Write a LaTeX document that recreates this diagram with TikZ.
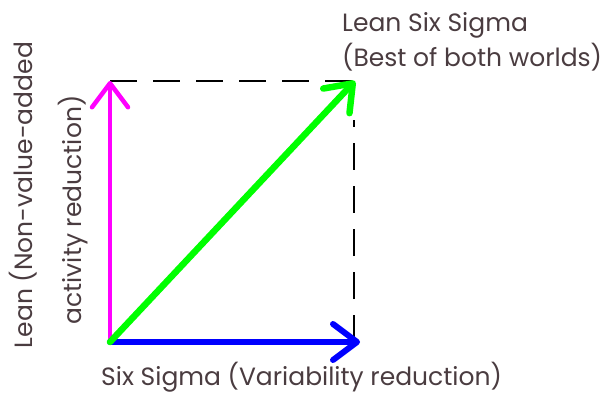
\documentclass[tikz,border=0pt]{standalone}
\usepackage{fontspec}
\setmainfont{Poppins}
\usetikzlibrary{arrows.meta}
\definecolor{txt}{HTML}{4A3C40}
\definecolor{mag}{HTML}{FF00FF}
\definecolor{grn}{HTML}{00FF00}
\definecolor{blu}{HTML}{0000FF}
\tikzset{
  lbl/.style={text=txt,font=\fontsize{25}{30}\selectfont,inner sep=0pt},
  vec/.style={line width=#1,line cap=round,-{Straight Barb[length=24pt,width=36pt,line width=#1,round]}},
  guide/.style={black,line width=1.6pt,dash pattern=on 27pt off 16pt}
}
\begin{document}
\begin{tikzpicture}[x=1pt,y=-1pt]
\useasboundingbox (0,0) rectangle (604,395);
\coordinate (O) at (110,342);
\coordinate (L) at (110,81);
\coordinate (S) at (360,342);
\coordinate (B) at (355,81);
\coordinate (C) at (354,342);
\coordinate (Cs) at (354,120);
\draw[guide] (L) -- (B);
\draw[guide] (C) -- (Cs);
\draw[mag,vec=4.5pt] (O) -- (L);
\draw[blu,vec=6pt] (O) -- (S);
\draw[grn,vec=6.5pt] (O) -- (B);
\node[lbl,anchor=base west] (lss) at (342,32) {Lean Six Sigma};
\node[lbl,anchor=base west] (bob) at (342,67) {(Best of both worlds)};
\node[lbl,anchor=base west] (ss) at (101,385) {Six Sigma (Variability reduction)};
\node[lbl,rotate=90,anchor=center] (ln1) at (23,195) {Lean (Non-value-added};
\node[lbl,rotate=90,anchor=center] (ln2) at (73,210) {activity reduction)};
\end{tikzpicture}
\end{document}
